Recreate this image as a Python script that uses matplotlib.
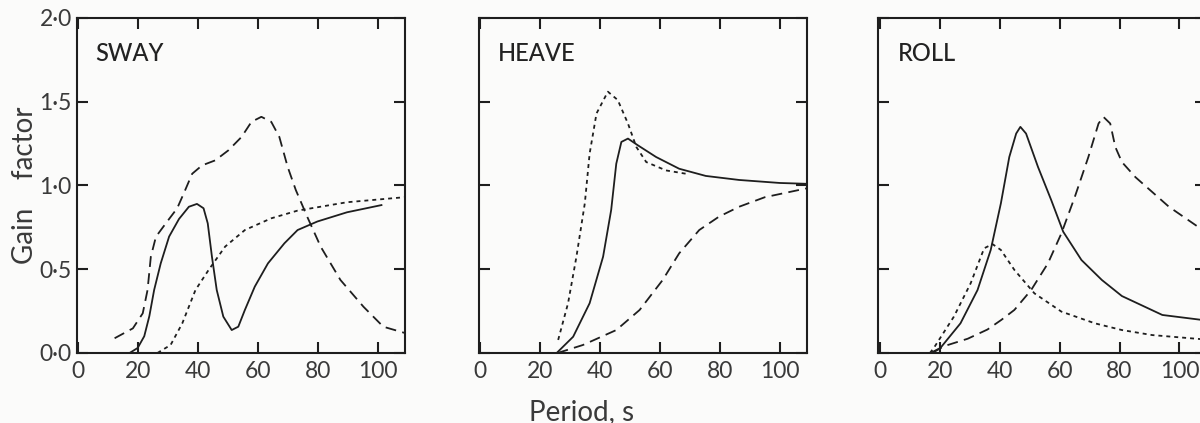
import matplotlib
matplotlib.use("Agg")
import matplotlib.pyplot as plt
from matplotlib.ticker import FixedLocator, FuncFormatter

# Data (period in s, gain factor)
sway_solid_x = [17.2, 19.9, 22.1, 23.8, 25.4, 27.6, 30.4, 33.7, 37.0, 39.7, 41.9, 43.3, 44.7, 46.3, 48.5, 51.3, 53.5, 55.7, 59.0, 63.4, 68.9, 73.3, 79.9, 89.8, 101.3]
sway_solid_y = [0.0, 0.03, 0.10, 0.22, 0.376, 0.535, 0.695, 0.80, 0.873, 0.89, 0.864, 0.774, 0.575, 0.376, 0.217, 0.137, 0.157, 0.257, 0.396, 0.535, 0.655, 0.734, 0.785, 0.84, 0.883]

sway_long_x = [12.2, 18.3, 21.6, 23.2, 24.3, 26.0, 29.3, 33.1, 35.3, 38.1, 41.4, 45.8, 50.2, 54.6, 57.9, 61.2, 64.5, 67.2, 70.0, 72.7, 76.6, 81.0, 87.6, 95.3, 101.9, 109.0]
sway_long_y = [0.088, 0.147, 0.237, 0.376, 0.575, 0.694, 0.774, 0.864, 0.953, 1.07, 1.12, 1.15, 1.21, 1.29, 1.38, 1.41, 1.38, 1.29, 1.11, 0.973, 0.81, 0.635, 0.436, 0.276, 0.157, 0.12]

sway_short_x = [26.5, 30.9, 34.8, 39.2, 43.6, 49.1, 55.7, 64.5, 73.3, 89.8, 109.0]
sway_short_y = [0.0, 0.048, 0.177, 0.376, 0.496, 0.635, 0.734, 0.804, 0.85, 0.90, 0.93]

heave_solid_x = [25.5, 31.0, 36.5, 41.0, 43.7, 45.4, 47.1, 49.3, 52.6, 58.7, 66.4, 75.3, 86.4, 100.0, 109.0]
heave_solid_y = [0.0, 0.097, 0.297, 0.575, 0.854, 1.13, 1.26, 1.28, 1.24, 1.17, 1.10, 1.057, 1.033, 1.015, 1.01]

heave_short_x = [26.0, 29.3, 32.1, 34.9, 36.5, 38.8, 42.6, 45.9, 49.3, 52.1, 55.4, 62.0, 68.7]
heave_short_y = [0.078, 0.297, 0.575, 0.894, 1.19, 1.43, 1.56, 1.51, 1.37, 1.23, 1.14, 1.09, 1.07]

heave_long_x = [25.8, 34.3, 45.4, 53.2, 60.9, 66.4, 73.1, 79.7, 86.4, 95.0, 109.0]
heave_long_y = [0.0, 0.048, 0.137, 0.257, 0.436, 0.595, 0.734, 0.814, 0.873, 0.93, 0.983]

roll_solid_x = [16.9, 20.2, 26.9, 32.6, 37.0, 40.4, 43.2, 45.5, 46.9, 48.8, 52.8, 57.2, 61.2, 67.3, 74.1, 80.8, 94.3, 107.7]
roll_solid_y = [0.0, 0.03, 0.177, 0.376, 0.615, 0.894, 1.17, 1.31, 1.35, 1.31, 1.11, 0.913, 0.724, 0.555, 0.436, 0.34, 0.227, 0.197]

roll_short_x = [16.7, 18.0, 24.7, 30.3, 34.8, 37.6, 40.4, 44.9, 51.6, 60.6, 71.8, 80.8, 90.9, 107.7]
roll_short_y = [0.0, 0.03, 0.217, 0.416, 0.625, 0.65, 0.615, 0.496, 0.356, 0.247, 0.177, 0.137, 0.107, 0.082]

roll_long_x = [17.5, 21.3, 29.3, 35.9, 40.5, 44.9, 50.5, 56.1, 60.6, 65.1, 69.6, 73.0, 74.6, 76.9, 78.6, 80.8, 85.3, 96.5, 107.7]
roll_long_y = [0.0, 0.04, 0.085, 0.14, 0.197, 0.257, 0.376, 0.535, 0.714, 0.933, 1.17, 1.37, 1.41, 1.37, 1.23, 1.14, 1.05, 0.873, 0.735]

panel_titles = ["SWAY", "HEAVE", "ROLL"]
x_ticks = [0, 20, 40, 60, 80, 100]
y_ticks = [0.0, 0.5, 1.0, 1.5, 2.0]

panels = [
    [(sway_solid_x, sway_solid_y), (sway_long_x, sway_long_y), (sway_short_x, sway_short_y)],
    [(heave_solid_x, heave_solid_y), (heave_long_x, heave_long_y), (heave_short_x, heave_short_y)],
    [(roll_solid_x, roll_solid_y), (roll_long_x, roll_long_y), (roll_short_x, roll_short_y)],
]
styles = ["-", (0, (6, 3.5)), (0, (2.2, 2.2))]

plt.rcParams['font.family'] = ['Lato', 'DejaVu Sans']
txt_col = "#3a3a3a"
line_col = "#1e1e1e"

fig = plt.figure(figsize=(12, 4.23), dpi=100)
fig.patch.set_facecolor("#fbfbfa")
lefts = [0.0638, 0.399, 0.732]
for i, left in enumerate(lefts):
    ax = fig.add_axes([left, 0.1655, 0.2733, 0.792])
    ax.set_facecolor("#fbfbfa")
    for (xs, ys), ls in zip(panels[i], styles):
        ax.plot(xs, ys, color=line_col, linestyle=ls, linewidth=1.3)
    ax.set_xlim(-0.5, 109)
    ax.set_ylim(0, 2.0)
    ax.xaxis.set_major_locator(FixedLocator(x_ticks))
    ax.yaxis.set_major_locator(FixedLocator(y_ticks))
    ax.tick_params(direction="in", length=8, width=1.5, color=line_col,
                   top=True, right=True, labelsize=16.5, labelcolor=txt_col)
    ax.tick_params(axis="x", pad=6)
    for sp in ax.spines.values():
        sp.set_linewidth(1.5)
        sp.set_color(line_col)
    if i == 0:
        ax.yaxis.set_major_formatter(FuncFormatter(lambda v, p: f"{v:.1f}".replace(".", "\u00b7")))
        ax.set_ylabel("Gain    factor", fontsize=20, color=txt_col, labelpad=1)
    else:
        ax.set_yticklabels([])
    ax.text(0.058, 0.895, panel_titles[i], transform=ax.transAxes, fontsize=17,
            color="#222222", ha="left", va="center", fontweight="medium")

fig.text(0.485, 0.026, "Period, s", fontsize=20, color=txt_col, ha="center", va="center")

fig.savefig("out.png", dpi=100, facecolor=fig.get_facecolor())
